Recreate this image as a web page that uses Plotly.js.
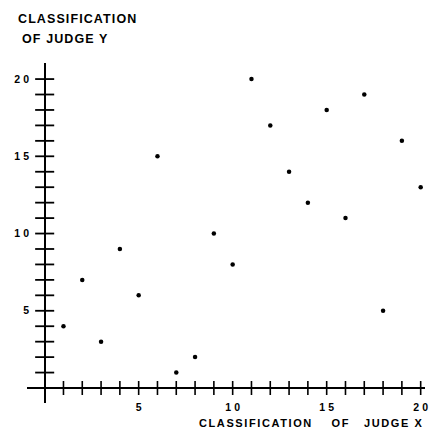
<!DOCTYPE html>
<html><head><meta charset="utf-8">
<script src="https://cdn.plot.ly/plotly-3.0.1.min.js"></script>
<style>body{margin:0;background:#fff}</style>
</head><body><div id="chart" style="width:439px;height:429px"></div>
<script>
// Data
const judgeX = [1,2,3,4,5,6,7,8,9,10,11,12,13,14,15,16,17,18,19,20];
const judgeY = [4,7,3,9,6,15,1,2,10,8,20,17,14,12,18,11,19,5,16,13];
const xTickMarks = [1,2,3,4,5,6,7,8,9,10,11,12,13,14,15,16,17,18,19,20];
const yTickMarks = [1,2,3,4,5,6,7,8,9,10,11,12,13,14,15,16,17,18,19,20];
const xLabelValues = [5,10,15,20];
const yLabelValues = [5,10,15,20];
const yTitleLines = ['CLASSIFICATION', 'OF JUDGE Y'];
const xTitleText = 'CLASSIFICATION\u00a0\u00a0\u00a0\u00a0OF\u00a0\u00a0\u00a0JUDGE\u00a0X';

const W = 439, H = 429;
const M = {l: 27, r: 14, t: 63, b: 26};
const pw = W - M.l - M.r, ph = H - M.t - M.b;
const px = v => (v - M.l) / pw;
const py = v => (H - M.b - v) / ph;

const FONT = 'Liberation Sans, Arial, sans-serif';
const spaced = (s, ls) => '<span style="letter-spacing:' + ls + 'px">' + s + '</span>';
// spread digits of a tick label without adding trailing space
const tickLabel = v => {
  const s = String(v);
  return s.length > 1 ? spaced(s.slice(0, -1), 3) + s.slice(-1) : s;
};

const traces = [
  {
    x: xTickMarks, y: xTickMarks.map(() => 0), mode: 'markers', type: 'scatter',
    hoverinfo: 'skip', cliponaxis: false,
    marker: {symbol: 'line-ns', size: 10, color: '#000', line: {color: '#000', width: 1.6}}
  },
  {
    x: yTickMarks.map(() => 0), y: yTickMarks, mode: 'markers', type: 'scatter',
    hoverinfo: 'skip', cliponaxis: false,
    marker: {symbol: 'line-ew', size: 13.6, color: '#000', line: {color: '#000', width: 1.8}}
  },
  {
    x: judgeX, y: judgeY, mode: 'markers', type: 'scatter', cliponaxis: false,
    marker: {size: 4.5, color: '#000'}
  }
];

const tickFont = {family: FONT, size: 10.5, weight: 'bold', color: '#000'};

const layout = {
  width: W, height: H,
  margin: M,
  paper_bgcolor: '#fff', plot_bgcolor: '#fff',
  showlegend: false,
  font: {family: FONT, color: '#000'},
  xaxis: {
    range: [-0.94, 20.23], showgrid: false, showline: false,
    zeroline: true, zerolinecolor: '#000', zerolinewidth: 2,
    tickmode: 'array', tickvals: xLabelValues, ticktext: xLabelValues.map(tickLabel),
    ticks: '', ticklabelstandoff: -4,
    tickfont: tickFont,
    title: {text: ''}
  },
  yaxis: {
    range: [-0.97, 21.04], showgrid: false, showline: false,
    zeroline: true, zerolinecolor: '#000', zerolinewidth: 2,
    tickmode: 'array', tickvals: yLabelValues, ticktext: yLabelValues.map(tickLabel),
    ticks: '', ticklabelstandoff: -3,
    tickfont: tickFont,
    title: {text: ''}
  },
  annotations: [
    {text: spaced(yTitleLines[0], 1.1), xref: 'paper', yref: 'paper', x: px(16), y: py(18.5),
     xanchor: 'left', yanchor: 'middle', showarrow: false,
     font: {family: FONT, size: 12.5, weight: 'bold', color: '#000'}},
    {text: spaced(yTitleLines[1], 1.1), xref: 'paper', yref: 'paper', x: px(20), y: py(38.5),
     xanchor: 'left', yanchor: 'middle', showarrow: false,
     font: {family: FONT, size: 12.5, weight: 'bold', color: '#000'}},
    {text: spaced(xTitleText, 1.6), xref: 'paper', yref: 'paper', x: px(197), y: py(423),
     xanchor: 'left', yanchor: 'middle', showarrow: false,
     font: {family: FONT, size: 11, weight: 'bold', color: '#000'}}
  ]
};

Plotly.newPlot('chart', traces, layout, {staticPlot: true, displayModeBar: false});
</script>
</body></html>
